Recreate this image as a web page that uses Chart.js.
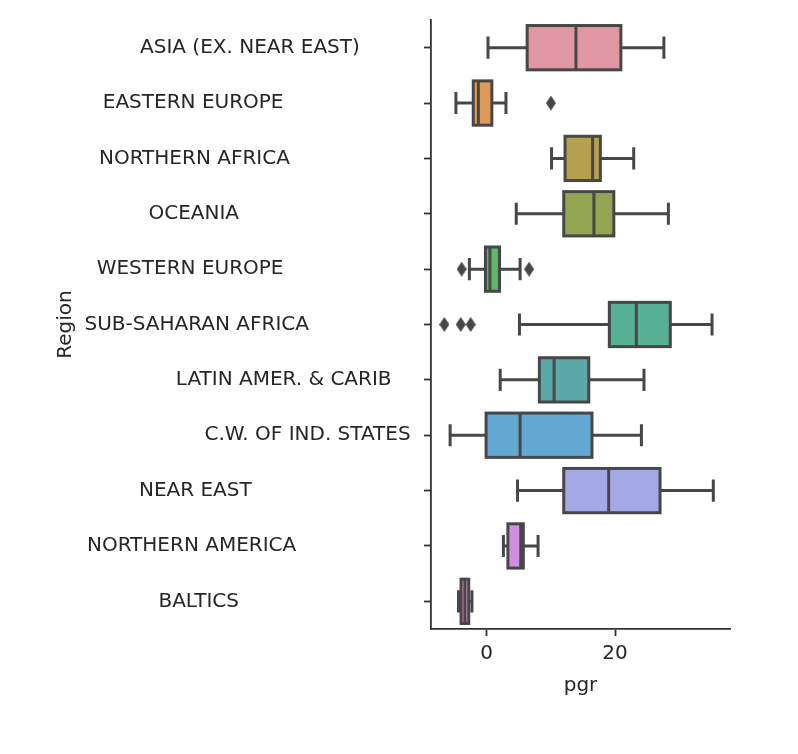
<!DOCTYPE html>
<html>
<head>
<meta charset="utf-8">
<script src="https://cdn.jsdelivr.net/npm/chart.js@4.4.1/dist/chart.umd.min.js"></script>
<style>
  html, body { margin: 0; padding: 0; background: #fff; }
  #wrap { width: 798px; height: 754px; }
</style>
</head>
<body>
<div id="wrap"><canvas id="myChart"></canvas></div>
<script>
// region names as they are stored in the data set (padded with trailing blanks)
const categories = [
  'ASIA (EX. NEAR EAST)'.padEnd(29),
  'EASTERN EUROPE'.padEnd(35),
  'NORTHERN AFRICA'.padEnd(35),
  'OCEANIA'.padEnd(35),
  'WESTERN EUROPE'.padEnd(35),
  'SUB-SAHARAN AFRICA'.padEnd(35),
  'LATIN AMER. & CARIB'.padEnd(23),
  'C.W. OF IND. STATES'.padEnd(20),
  'NEAR EAST'.padEnd(35),
  'NORTHERN AMERICA'.padEnd(35),
  'BALTICS'.padEnd(35)
];

// box plot statistics of pgr per region
const whiskLo = [0.2, -4.8, 10.1, 4.6, -2.7, 5.1, 2.1, -5.7, 4.8, 2.6, -4.4];
const q1      = [6.3, -2.1, 12.2, 12.0, -0.2, 19.1, 8.2, -0.1, 12.0, 3.3, -4.0];
const median  = [13.9, -1.3, 16.5, 16.7, 0.5, 23.3, 10.5, 5.2, 19.0, 5.3, -3.4];
const q3      = [20.9, 0.8, 17.7, 19.8, 2.0, 28.6, 15.9, 16.4, 27.0, 5.7, -2.8];
const whiskHi = [27.6, 3.0, 22.9, 28.3, 5.2, 35.1, 24.5, 24.1, 35.3, 8.0, -2.3];
const outliers = [[], [10.0], [], [], [-3.9, 6.6], [-6.6, -4.05, -2.5], [], [], [], [], []];

const xTicks = [0, 20];

const boxColors = [
  '#e096a3', '#df9a55', '#b5a04f', '#93a550', '#5bb865', '#58b094',
  '#5aa9a8', '#62a8d2', '#a4a9e5', '#d08fe2', '#e08cc5'
];
const lineGray = '#474747';
const textColor = '#262626';
const lw = 3;

Chart.defaults.font.family = 'DejaVu Sans';
Chart.defaults.font.size = 20;
Chart.defaults.color = textColor;

// thin diamond used for the fliers
function diamond(w, h, color) {
  const c = document.createElement('canvas');
  c.width = w; c.height = h;
  const g = c.getContext('2d');
  g.fillStyle = color;
  g.beginPath();
  g.moveTo(w / 2, 0); g.lineTo(w, h / 2); g.lineTo(w / 2, h); g.lineTo(0, h / 2);
  g.closePath();
  g.fill();
  return c;
}

const flierPoints = [];
outliers.forEach((vals, i) => vals.forEach(v => flierPoints.push({ x: v, y: categories[i] })));

// box outlines, whiskers, caps and medians, placed with the chart's own scales
const boxLines = {
  id: 'boxLines',
  afterDatasetsDraw(chart) {
    const { ctx, scales: { x } } = chart;
    const bars = chart.getDatasetMeta(0).data;
    ctx.save();
    ctx.strokeStyle = lineGray;
    ctx.lineWidth = lw;
    ctx.lineCap = 'butt';
    categories.forEach((c, i) => {
      const bar = bars[i];
      const yc = bar.y;
      const half = bar.height / 2;
      const cap = bar.height / 4;
      const xl = x.getPixelForValue(whiskLo[i]);
      const xh = x.getPixelForValue(whiskHi[i]);
      const x1 = x.getPixelForValue(q1[i]);
      const x3 = x.getPixelForValue(q3[i]);
      const xm = x.getPixelForValue(median[i]);
      ctx.strokeRect(x1, yc - half, x3 - x1, 2 * half);
      ctx.beginPath();
      ctx.moveTo(xl, yc); ctx.lineTo(x1, yc);
      ctx.moveTo(x3, yc); ctx.lineTo(xh, yc);
      ctx.moveTo(xl, yc - cap); ctx.lineTo(xl, yc + cap);
      ctx.moveTo(xh, yc - cap); ctx.lineTo(xh, yc + cap);
      ctx.moveTo(xm, yc - half); ctx.lineTo(xm, yc + half);
      ctx.stroke();
    });
    ctx.restore();
  }
};

const ctx = document.getElementById('myChart').getContext('2d');
const myChart = new Chart(ctx, {
  type: 'bar',
  data: {
    labels: categories,
    datasets: [{
      label: 'pgr',
      indexAxis: 'y',
      data: categories.map((c, i) => [q1[i], q3[i]]),
      backgroundColor: boxColors,
      borderWidth: 0,
      barPercentage: 0.8,
      categoryPercentage: 1.0
    }, {
      type: 'scatter',
      label: 'outliers',
      data: flierPoints,
      pointStyle: diamond(10, 15, lineGray),
      pointRadius: 5,
      xAxisID: 'x',
      yAxisID: 'y'
    }]
  },
  options: {
    responsive: true,
    maintainAspectRatio: false,
    animation: false,
    indexAxis: 'y',
    layout: { padding: { top: 20, right: 68, bottom: 0, left: 0 } },
    plugins: {
      legend: { display: false },
      tooltip: { enabled: false }
    },
    scales: {
      x: {
        type: 'linear',
        position: 'bottom',
        min: -8.68,
        max: 37.9,
        afterBuildTicks: s => { s.ticks = xTicks.map(v => ({ value: v })); },
        afterFit: s => { s.height = 125; },
        ticks: { padding: 6, color: textColor },
        grid: { drawOnChartArea: false, drawTicks: true, tickLength: 7, tickColor: '#333', tickWidth: 1.8 },
        border: { display: true, color: '#333', width: 1.8 },
        title: { display: true, text: 'pgr', color: textColor, padding: { top: 0, bottom: 56 } }
      },
      y: {
        type: 'category',
        labels: categories,
        offset: true,
        afterFit: s => { s.width = 431; },
        ticks: { padding: 7, autoSkip: false, color: textColor },
        grid: { drawOnChartArea: false, drawTicks: true, tickLength: 7, tickColor: '#333', tickWidth: 1.8, offset: false },
        border: { display: true, color: '#333', width: 1.8 },
        title: { display: true, text: 'Region', color: textColor, padding: { top: 54, bottom: 0 } }
      }
    }
  },
  plugins: [boxLines]
});
</script>
</body>
</html>
